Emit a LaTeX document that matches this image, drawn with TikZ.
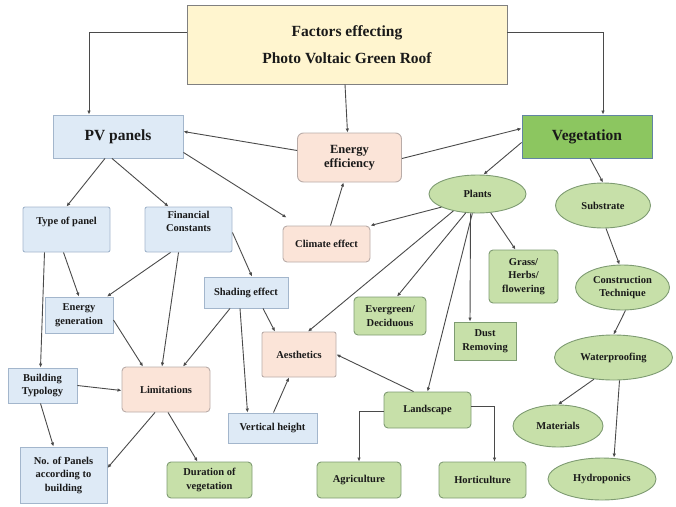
\documentclass[tikz,border=0pt]{standalone}
\usepackage{fontspec}
\setmainfont{Liberation Serif}
\usepackage{xcolor}
\usetikzlibrary{arrows.meta,shapes.geometric}
\definecolor{titlefill}{HTML}{FFF5CF}
\definecolor{bluefill}{HTML}{DEEAF6}
\definecolor{blueline}{HTML}{A3B6CC}
\definecolor{peachfill}{HTML}{FBE4D8}
\definecolor{peachline}{HTML}{B9ACA8}
\definecolor{greenfill}{HTML}{C7E0A9}
\definecolor{greenline}{HTML}{7E9B72}
\definecolor{vegfill}{HTML}{8CC660}
\definecolor{vegline}{HTML}{6284A3}
\definecolor{arrowgray}{HTML}{4A4A4A}
\newcommand{\smallfont}{\fontsize{10.5}{13.5}\selectfont\bfseries}
\newcommand{\bigfont}{\fontsize{15.5}{27}\selectfont\bfseries}
\tikzset{
  box/.style={draw,line width=0.9pt,align=center,inner sep=2pt,text=black!90,font=\smallfont},
  titlebox/.style={box,fill=titlefill,draw=black!50,font=\bigfont},
  bluebox/.style={box,fill=bluefill,draw=blueline},
  peachbox/.style={box,fill=peachfill,draw=peachline,rounded corners=4pt},
  greenbox/.style={box,fill=greenfill,draw=greenline,rounded corners=4pt},
  greenell/.style={box,ellipse,fill=greenfill,draw=greenline,inner sep=0pt},
  arr/.style={-{Latex[length=4pt,width=3.5pt]},draw=arrowgray,line width=0.9pt}
}

\begin{document}
\begin{tikzpicture}[x=1pt,y=-1pt]
  \useasboundingbox (0,0) rectangle (676,506);
  % Title
  \node (title) [titlebox,minimum width=320,minimum height=79] at (347,44.5) {Factors effecting\\Photo Voltaic Green Roof};
  % Main branches
  \node (pv) [bluebox,font=\bigfont,minimum width=130,minimum height=43] at (118,136.5) {PV panels};
  \node (veg) [box,fill=vegfill,draw=vegline,font=\bigfont,minimum width=130,minimum height=43] at (587,136.5) {Vegetation};
  \node (energy) [peachbox,font=\fontsize{12.5}{14}\selectfont\bfseries,minimum width=104,minimum height=49,rounded corners=6pt] at (349.5,157.5) {Energy\\efficiency};
  \node (climate) [peachbox,minimum width=87,minimum height=36] at (326.5,244) {Climate effect};
  % PV side
  \node (typepanel) [bluebox,rounded corners=2pt,minimum width=87,minimum height=45] at (66.5,229.5) {Type of panel\\[3pt]};
  \node (financial) [bluebox,rounded corners=2pt,minimum width=87,minimum height=45] at (188.5,229.5) {Financial\\Constants\\[3pt]};
  \node (energygen) [bluebox,minimum width=68,minimum height=36] at (79,315) {Energy\\generation};
  \node (shading) [bluebox,minimum width=84,minimum height=31] at (246,292.5) {Shading effect};
  \node (building) [bluebox,minimum width=69,minimum height=35] at (42.5,385.5) {Building\\Typology};
  \node (limits) [peachbox,minimum width=88,minimum height=45] at (166,389.5) {Limitations};
  \node (aesth) [peachbox,rounded corners=2pt,minimum width=74,minimum height=45] at (299,354.5) {Aesthetics};
  \node (vertical) [bluebox,minimum width=89,minimum height=30] at (272.5,428) {Vertical height};
  \node (nopanels) [bluebox,minimum width=87,minimum height=56] at (63.5,475) {No. of Panels\\according to\\building};
  \node (duration) [greenbox,minimum width=85,minimum height=36] at (209.5,480) {Duration of\\vegetation};
  % Vegetation side
  \node (plants) [greenell,minimum width=97,minimum height=38] at (477.5,194) {Plants};
  \node (grass) [greenbox,minimum width=69,minimum height=53] at (523.5,276.5) {Grass/\\Herbs/\\flowering};
  \node (evergreen) [greenbox,minimum width=72,minimum height=38] at (390,316) {Evergreen/\\Deciduous};
  \node (dust) [box,fill=greenfill,draw=greenline,minimum width=62,minimum height=38] at (485,341) {Dust\\Removing};
  \node (landscape) [greenbox,minimum width=87,minimum height=36] at (427.5,410) {Landscape};
  \node (agri) [greenbox,minimum width=84,minimum height=36] at (359,480) {Agriculture};
  \node (horti) [greenbox,minimum width=87,minimum height=36] at (482.5,480) {Horticulture};
  \node (substrate) [greenell,minimum width=95,minimum height=45] at (603,205.5) {Substrate};
  \node (constr) [greenell,minimum width=94,minimum height=45] at (622.5,287.5) {Construction\\Technique};
  \node (water) [greenell,minimum width=118,minimum height=45] at (613.5,357.5) {Waterproofing};
  \node (materials) [greenell,minimum width=90,minimum height=42] at (558,426) {Materials};
  \node (hydro) [greenell,minimum width=108,minimum height=42] at (602,479) {Hydroponics};
  % arrows from the title
  \draw[arr] ([yshift=12pt]title.west) -| ([xshift=-29pt]pv.north);
  \draw[arr] ([yshift=12pt]title.east) -| ([xshift=16pt]veg.north);
  \draw[arr] ([xshift=-2pt]title.south) -- ([xshift=-2pt]energy.north);
  \draw[arr] ([yshift=7pt]energy.west) -- ([yshift=5pt]pv.east);
  \draw[arr] ([yshift=-1pt]energy.east) -- ([yshift=8pt]veg.west);
  \draw[arr] ([xshift=4pt]climate.north) -- ([xshift=-6pt]energy.south);
  % PV panels
  \draw[arr] ([xshift=-13pt]pv.south) -- (typepanel.north);
  \draw[arr] ([xshift=-6pt]pv.south) -- ([xshift=-20pt]financial.north);
  \draw[arr] ([yshift=6pt]pv.south east) -- ([xshift=4pt,yshift=8pt]climate.north west);
  \draw[arr] ([xshift=-3pt]typepanel.south) -- (energygen.north);
  \draw[arr] ([xshift=-22pt]typepanel.south) -- ([xshift=-2pt]building.north);
  \draw[arr] ([xshift=-18pt]financial.south) -- ([xshift=28pt]energygen.north);
  \draw[arr] ([xshift=-10pt]financial.south) -- ([xshift=-4pt]limits.north);
  \draw[arr] ([yshift=-3pt]financial.east) -- ([xshift=6pt]shading.north);
  \draw[arr] ([yshift=-5pt]energygen.east) -- ([xshift=-23pt]limits.north);
  \draw[arr] ([xshift=-16pt]shading.south) -- ([xshift=17pt]limits.north);
  \draw[arr] ([xshift=-6pt]shading.south) -- ([xshift=-25pt]vertical.north);
  \draw[arr] ([xshift=17pt]shading.south) -- ([xshift=-24pt]aesth.north);
  \draw[arr] ([xshift=1pt]vertical.north) -- ([xshift=-10pt]aesth.south);
  \draw[arr] (building.east) -- ([yshift=-1pt]limits.west);
  \draw[arr] ([xshift=-2pt]building.south) -- ([xshift=-10pt]nopanels.north);
  \draw[arr] ([xshift=-11pt]limits.south) -- ([yshift=7pt]nopanels.east);
  \draw[arr] ([xshift=2pt]limits.south) -- ([xshift=-12pt]duration.north);
  % Vegetation
  \draw[arr] ([yshift=-6pt]veg.west) -- ([xshift=6pt]plants.north);
  \draw[arr] ([xshift=3pt]veg.south) -- (substrate.north);
  \draw[arr] (plants.200) -- (climate.north east);
  \draw[arr] (plants.215) -- ([xshift=9pt]aesth.north);
  \draw[arr] (plants.238) -- ([xshift=7pt]evergreen.north);
  \draw[arr] (plants.255) -- (landscape.north);
  \draw[arr] ([xshift=-7pt]plants.south) -- ([xshift=-15pt]dust.north);
  \draw[arr] (plants.305) -- ([xshift=-8pt]grass.north);
  \draw[arr] ([xshift=3pt]substrate.south) -- ([xshift=-3pt]constr.north);
  \draw[arr] ([xshift=3pt]constr.south) -- (water.north);
  \draw[arr] (water.228) -- (materials.north);
  \draw[arr] ([xshift=6pt]water.south) -- ([xshift=12pt]hydro.north);
  \draw[arr] ([xshift=30pt]landscape.north west) -- (aesth.east);
  \draw[arr] ([yshift=-1pt]landscape.west) -| (agri.north);
  \draw[arr] ([yshift=4pt]landscape.east) -| ([xshift=12pt]horti.north);
\end{tikzpicture}
\end{document}
